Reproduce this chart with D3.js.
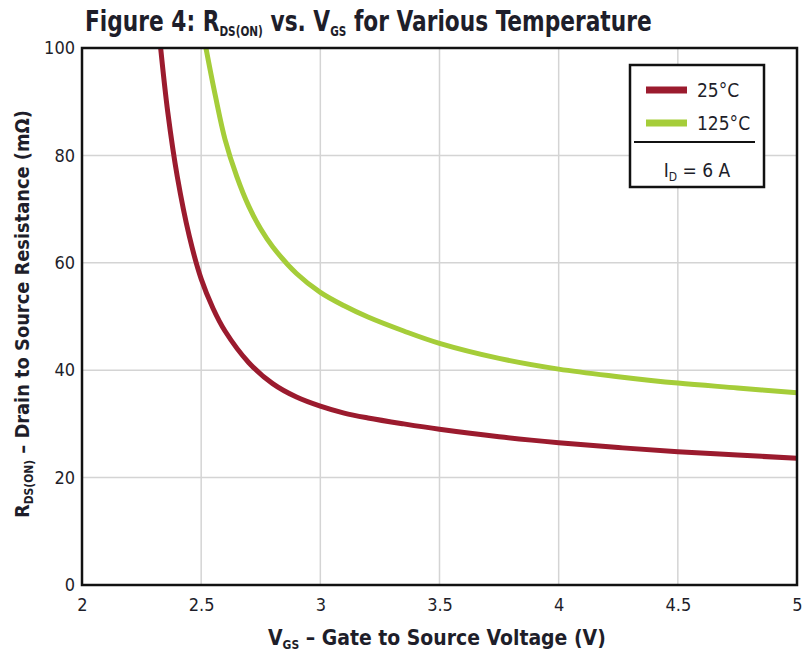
<!DOCTYPE html>
<html>
<head>
<meta charset="utf-8">
<script src="https://cdn.jsdelivr.net/npm/d3@7"></script>
<style>
body { margin: 0; background: #fff; }
text { font-family: "Liberation Sans Narrow", "DejaVu Sans Condensed", sans-serif; fill: #1e1e2a; }
.tick text { font-size: 18px; }
</style>
</head>
<body>
<script>
// data
const vgs25 = [2.33, 2.36, 2.4, 2.45, 2.5, 2.55, 2.6, 2.7, 2.8, 2.9, 3.0, 3.1, 3.2, 3.35, 3.5, 3.75, 4.0, 4.25, 4.5, 4.75, 5.0];
const rds25 = [100, 88, 76, 65, 57, 51.5, 47.3, 41.4, 37.5, 35.0, 33.3, 32.0, 31.1, 30.0, 29.0, 27.6, 26.5, 25.6, 24.8, 24.2, 23.6];
const vgs125 = [2.52, 2.56, 2.6, 2.65, 2.7, 2.75, 2.8, 2.9, 3.0, 3.1, 3.2, 3.35, 3.5, 3.75, 4.0, 4.25, 4.5, 4.75, 5.0];
const rds125 = [100, 91, 83, 76, 70.5, 66.3, 63, 58, 54.5, 52.0, 49.9, 47.3, 45.0, 42.2, 40.2, 38.8, 37.6, 36.7, 35.8];
const xTicks = [2, 2.5, 3, 3.5, 4, 4.5, 5];
const yTicks = [0, 20, 40, 60, 80, 100];
const seriesNames = ["25°C", "125°C"];
const seriesColors = ["#9b1b2e", "#a5cd39"];

const W = 810, H = 654;
const mLeft = 82, mRight = 797, mTop = 48, mBottom = 585;

const svg = d3.select("body").append("svg")
  .attr("width", W).attr("height", H);

const x = d3.scaleLinear().domain([2, 5]).range([mLeft, mRight]);
const y = d3.scaleLinear().domain([0, 100]).range([mBottom, mTop]);

// grid
svg.append("g")
  .selectAll("line")
  .data(xTicks.slice(1, -1))
  .enter().append("line")
  .attr("x1", d => x(d)).attr("x2", d => x(d))
  .attr("y1", mTop).attr("y2", mBottom)
  .attr("stroke", "#d4d4d4").attr("stroke-width", 1.5);
svg.append("g")
  .selectAll("line")
  .data(yTicks.slice(1, -1))
  .enter().append("line")
  .attr("x1", mLeft).attr("x2", mRight)
  .attr("y1", d => y(d)).attr("y2", d => y(d))
  .attr("stroke", "#d4d4d4").attr("stroke-width", 1.5);

// axes (labels only)
const xAxis = svg.append("g")
  .attr("transform", `translate(0,${mBottom})`)
  .call(d3.axisBottom(x).tickValues(xTicks).tickSize(0).tickPadding(10).tickFormat(d3.format("")));
xAxis.select(".domain").remove();
xAxis.selectAll(".tick text").attr("dy", "0.9em");

const yAxis = svg.append("g")
  .attr("transform", `translate(${mLeft},0)`)
  .call(d3.axisLeft(y).tickValues(yTicks).tickSize(0).tickPadding(7));
yAxis.select(".domain").remove();

// curves
svg.append("clipPath").attr("id", "clip")
  .append("rect").attr("x", mLeft).attr("y", mTop)
  .attr("width", mRight - mLeft).attr("height", mBottom - mTop);

const line = d3.line()
  .x(d => x(d[0])).y(d => y(d[1]))
  .curve(d3.curveCatmullRom.alpha(0.5));

const series = [d3.zip(vgs25, rds25), d3.zip(vgs125, rds125)];
svg.append("g").attr("clip-path", "url(#clip)")
  .selectAll("path")
  .data(series)
  .enter().append("path")
  .attr("d", line)
  .attr("fill", "none")
  .attr("stroke", (d, i) => seriesColors[i])
  .attr("stroke-width", 5)
  .attr("stroke-linecap", "round");

// frame
svg.append("rect")
  .attr("x", mLeft).attr("y", mTop)
  .attr("width", mRight - mLeft).attr("height", mBottom - mTop)
  .attr("fill", "none").attr("stroke", "#111").attr("stroke-width", 2.5);

// legend
const lg = svg.append("g");
lg.append("rect")
  .attr("x", 630).attr("y", 65).attr("width", 134).attr("height", 122)
  .attr("fill", "#fff").attr("stroke", "#111").attr("stroke-width", 2.5);
seriesNames.forEach((name, i) => {
  const ly = 90 + i * 33;
  lg.append("line")
    .attr("x1", 646).attr("x2", 687).attr("y1", ly).attr("y2", ly)
    .attr("stroke", seriesColors[i]).attr("stroke-width", 7);
  lg.append("text")
    .attr("x", 697).attr("y", ly + 7)
    .attr("font-size", 19)
    .text(name);
});
lg.append("line")
  .attr("x1", 634).attr("x2", 755).attr("y1", 142).attr("y2", 142)
  .attr("stroke", "#111").attr("stroke-width", 2);
const idT = lg.append("text").attr("x", 697).attr("y", 177)
  .attr("text-anchor", "middle").attr("font-size", 19);
idT.append("tspan").text("I");
idT.append("tspan").attr("font-size", 12).attr("dy", 4).text("D");
idT.append("tspan").attr("dy", -4).text(" = 6 A");

// squeeze a label horizontally to a target width (font here is wider than the original)
function fitWidth(sel, target) {
  const w = sel.node().getComputedTextLength();
  sel.attr("transform", (sel.attr("transform") || "") + ` scale(${target / w},1)`);
}

// title
const title = svg.append("text")
  .attr("transform", "translate(85,31)")
  .attr("font-size", 29).attr("font-weight", "bold")
  .attr("fill", "#111");
title.append("tspan").text("Figure 4: R");
title.append("tspan").attr("font-size", 14).attr("dy", 5).text("DS(ON)");
title.append("tspan").attr("dy", -5).text(" vs. V");
title.append("tspan").attr("font-size", 14).attr("dy", 5).text("GS");
title.append("tspan").attr("dy", -5).text(" for Various Temperature");
fitWidth(title, 567);

// x label
const xl = svg.append("text")
  .attr("transform", "translate(268,645)")
  .attr("font-size", 21).attr("font-weight", "bold").attr("fill", "#111");
xl.append("tspan").text("V");
xl.append("tspan").attr("font-size", 12).attr("dy", 4).text("GS");
xl.append("tspan").attr("dy", -4).text(" – Gate to Source Voltage (V)");
fitWidth(xl, 338);

// y label
const yl = svg.append("text")
  .attr("transform", "translate(29,518) rotate(-90)")
  .attr("font-size", 20).attr("font-weight", "bold").attr("fill", "#111");
yl.append("tspan").text("R");
yl.append("tspan").attr("font-size", 12).attr("dy", 4).text("DS(ON)");
yl.append("tspan").attr("dy", -4).text(" – Drain to Source Resistance (mΩ)");
fitWidth(yl, 408);
</script>
</body>
</html>
